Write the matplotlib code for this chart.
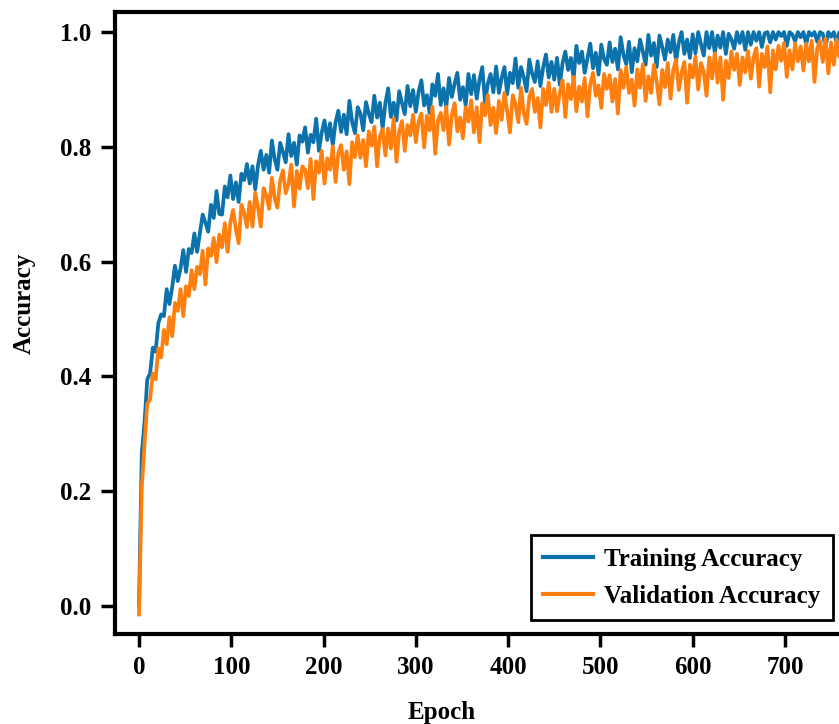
import matplotlib
matplotlib.use("Agg")
import matplotlib.pyplot as plt

plt.rcParams['font.family'] = ['Liberation Serif', 'DejaVu Serif']
plt.rcParams['font.weight'] = 'bold'

epochs = list(range(0, 781, 3))

train_acc = [
    0.000, 0.265, 0.320, 0.395, 0.405, 0.450, 0.443, 0.493, 0.508, 0.505,
    0.552, 0.526, 0.556, 0.593, 0.566, 0.588, 0.620, 0.582, 0.622, 0.615,
    0.649, 0.617, 0.649, 0.682, 0.668, 0.652, 0.699, 0.676, 0.723, 0.683,
    0.682, 0.731, 0.712, 0.750, 0.709, 0.738, 0.704, 0.753, 0.742, 0.770,
    0.736, 0.766, 0.726, 0.768, 0.793, 0.760, 0.786, 0.755, 0.811, 0.779,
    0.760, 0.807, 0.791, 0.773, 0.822, 0.784, 0.807, 0.769, 0.820, 0.809,
    0.834, 0.790, 0.821, 0.808, 0.849, 0.793, 0.825, 0.846, 0.812, 0.841,
    0.803, 0.843, 0.863, 0.826, 0.856, 0.822, 0.880, 0.843, 0.824, 0.869,
    0.858, 0.829, 0.878, 0.858, 0.843, 0.889, 0.851, 0.877, 0.832, 0.876,
    0.902, 0.852, 0.877, 0.846, 0.897, 0.876, 0.857, 0.906, 0.871, 0.899,
    0.861, 0.896, 0.916, 0.872, 0.890, 0.859, 0.909, 0.889, 0.927, 0.873,
    0.902, 0.869, 0.920, 0.887, 0.910, 0.929, 0.882, 0.904, 0.872, 0.927,
    0.892, 0.925, 0.884, 0.917, 0.939, 0.877, 0.910, 0.927, 0.895, 0.940,
    0.894, 0.920, 0.939, 0.892, 0.929, 0.911, 0.954, 0.903, 0.939, 0.921,
    0.897, 0.952, 0.928, 0.913, 0.949, 0.906, 0.939, 0.961, 0.921, 0.948,
    0.917, 0.955, 0.908, 0.946, 0.966, 0.934, 0.955, 0.919, 0.976, 0.946,
    0.966, 0.929, 0.955, 0.980, 0.937, 0.964, 0.926, 0.978, 0.953, 0.943,
    0.982, 0.948, 0.971, 0.935, 0.991, 0.960, 0.944, 0.983, 0.930, 0.972,
    0.949, 0.987, 0.966, 0.943, 0.995, 0.959, 0.981, 0.939, 0.994, 0.974,
    0.952, 0.987, 0.965, 0.995, 0.949, 0.982, 1.000, 0.962, 0.987, 0.955,
    0.996, 0.963, 1.000, 0.979, 0.959, 1.000, 0.972, 1.000, 0.964, 0.994,
    0.973, 1.000, 0.962, 0.997, 0.987, 0.971, 1.000, 0.981, 1.000, 0.969,
    1.000, 0.978, 1.000, 0.985, 1.000, 0.974, 0.998, 1.000, 0.982, 1.000,
    0.987, 1.000, 0.993, 1.000, 0.976, 1.000, 0.996, 0.984, 1.000, 0.991,
    1.000, 0.979, 1.000, 0.994, 1.000, 0.983, 1.000, 0.997, 0.975, 1.000,
    0.992, 1.000, 0.981, 1.000, 0.996, 1.000, 0.985, 1.000, 0.993, 1.000,
    0.995,
]

val_acc = [
    -0.015, 0.205, 0.282, 0.352, 0.360, 0.405, 0.395, 0.449, 0.433, 0.481,
    0.456, 0.503, 0.470, 0.528, 0.514, 0.552, 0.505, 0.557, 0.540, 0.585,
    0.552, 0.591, 0.578, 0.619, 0.560, 0.623, 0.610, 0.641, 0.599, 0.647,
    0.625, 0.667, 0.617, 0.668, 0.690, 0.656, 0.632, 0.699, 0.685, 0.660,
    0.704, 0.661, 0.720, 0.694, 0.661, 0.728, 0.715, 0.692, 0.746, 0.710,
    0.694, 0.741, 0.759, 0.719, 0.735, 0.769, 0.696, 0.758, 0.727, 0.766,
    0.760, 0.728, 0.779, 0.709, 0.775, 0.755, 0.793, 0.736, 0.780, 0.760,
    0.801, 0.739, 0.789, 0.803, 0.760, 0.792, 0.735, 0.808, 0.782, 0.820,
    0.781, 0.812, 0.766, 0.827, 0.802, 0.835, 0.766, 0.818, 0.831, 0.785,
    0.832, 0.797, 0.850, 0.774, 0.827, 0.845, 0.793, 0.838, 0.820, 0.856,
    0.808, 0.844, 0.858, 0.799, 0.854, 0.829, 0.870, 0.788, 0.846, 0.859,
    0.829, 0.870, 0.804, 0.856, 0.876, 0.827, 0.851, 0.815, 0.869, 0.844,
    0.881, 0.825, 0.869, 0.808, 0.876, 0.855, 0.890, 0.838, 0.868, 0.824,
    0.880, 0.847, 0.894, 0.862, 0.825, 0.890, 0.875, 0.843, 0.903, 0.859,
    0.840, 0.887, 0.901, 0.861, 0.885, 0.834, 0.901, 0.873, 0.912, 0.861,
    0.901, 0.862, 0.894, 0.916, 0.852, 0.909, 0.883, 0.922, 0.862, 0.905,
    0.879, 0.920, 0.853, 0.909, 0.929, 0.889, 0.907, 0.868, 0.927, 0.901,
    0.925, 0.879, 0.918, 0.858, 0.934, 0.903, 0.939, 0.894, 0.917, 0.872,
    0.935, 0.903, 0.944, 0.880, 0.923, 0.894, 0.943, 0.914, 0.874, 0.934,
    0.904, 0.946, 0.884, 0.934, 0.952, 0.899, 0.929, 0.948, 0.877, 0.943,
    0.921, 0.957, 0.900, 0.946, 0.931, 0.889, 0.956, 0.919, 0.963, 0.912,
    0.956, 0.882, 0.950, 0.920, 0.966, 0.934, 0.962, 0.908, 0.956, 0.930,
    0.967, 0.919, 0.956, 0.972, 0.905, 0.962, 0.939, 0.975, 0.895, 0.968,
    0.935, 0.976, 0.950, 0.981, 0.922, 0.968, 0.935, 0.980, 0.949, 0.975,
    0.933, 0.980, 0.949, 0.985, 0.913, 0.972, 0.985, 0.948, 0.989, 0.928,
    0.982, 0.943, 0.987, 0.957, 0.989, 0.926, 0.982, 0.950, 0.988, 0.962,
    0.975,
]

x_ticks = [0, 100, 200, 300, 400, 500, 600, 700]
y_ticks = [0.0, 0.2, 0.4, 0.6, 0.8, 1.0]

W, H = 839, 724
fig = plt.figure(figsize=(W / 100, H / 100), dpi=100)
ax = fig.add_axes([115 / W, 90 / H, 753 / W, 622 / H])

ax.plot(epochs, train_acc, color='#0b72ac', lw=2.7, label='Training Accuracy')
ax.plot(epochs, val_acc, color='#ff7f0e', lw=2.7, label='Validation Accuracy')

ax.set_xlim(-26, 790)
ax.set_ylim(-0.049, 1.035)
ax.set_xticks(x_ticks)
ax.set_yticks(y_ticks)
ax.set_xticklabels([str(v) for v in x_ticks])
ax.set_yticklabels([f"{v:.1f}" for v in y_ticks])

for s in ax.spines.values():
    s.set_linewidth(3)
ax.tick_params(axis='x', length=9, width=2.5, pad=7, labelsize=18)
ax.tick_params(axis='y', length=10, width=2.5, pad=7, labelsize=18)
for lab in ax.get_xticklabels() + ax.get_yticklabels():
    lab.set_fontweight('bold')

fig.text(24 / W, 1 - 303 / H, 'Accuracy', rotation=90, ha='center', va='center',
         fontsize=18, fontweight='bold')
fig.text(442 / W, 1 - 712 / H, 'Epoch', ha='center', va='center',
         fontsize=18, fontweight='bold')

leg = ax.legend(loc='lower right', bbox_to_anchor=(833 / W, 1 - 620 / H),
                bbox_transform=fig.transFigure, borderaxespad=0,
                fancybox=False, framealpha=1, edgecolor='black',
                prop={'family': 'Liberation Serif', 'weight': 'bold', 'size': 18},
                handlelength=2.0, handletextpad=0.45, labelspacing=0.55,
                borderpad=0.5)
leg.get_frame().set_linewidth(2)
for line in leg.get_lines():
    line.set_linewidth(3)

fig.savefig('out.png', dpi=100)
